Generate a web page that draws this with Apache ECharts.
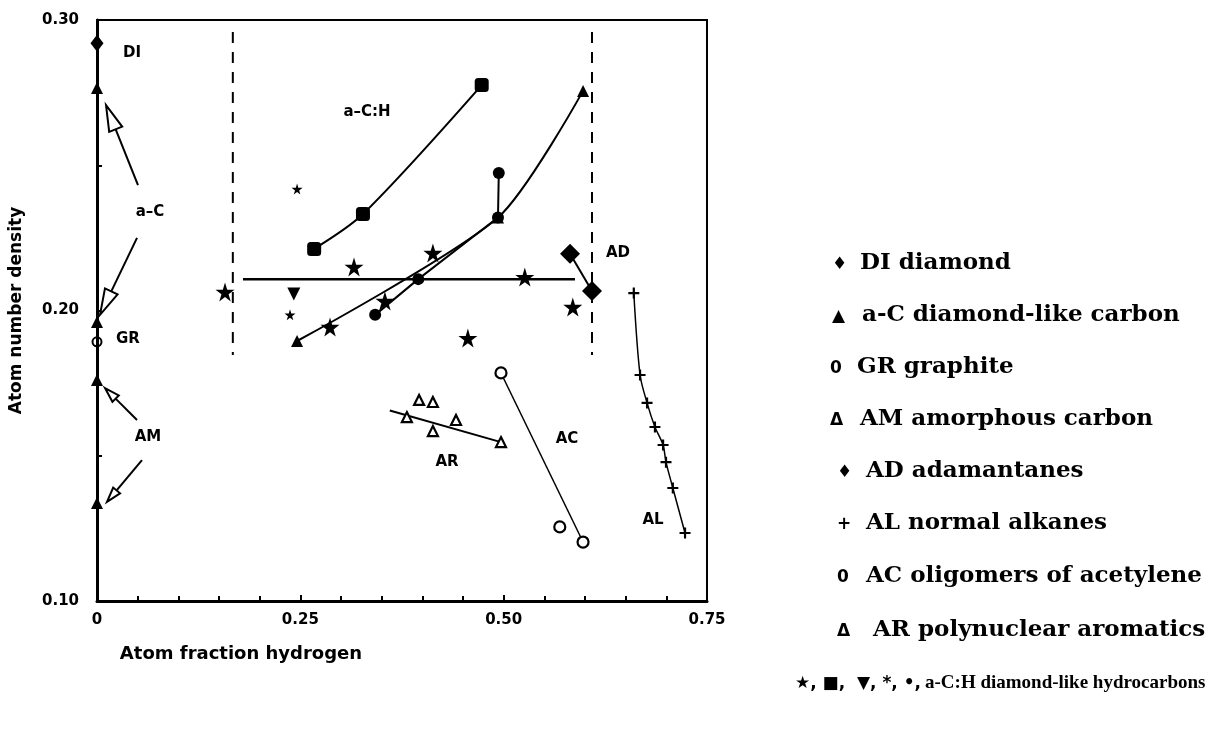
<!DOCTYPE html>
<html>
<head>
<meta charset="utf-8">
<script src="https://cdn.jsdelivr.net/npm/echarts@6/dist/echarts.min.js"></script>
<style>
  html, body { margin: 0; padding: 0; background: #fff; }
  #chart { width: 1211px; height: 738px; }
</style>
</head>
<body>
<div id="chart"></div>
<script>
// tick labels
const xTickLabels = ['0', '0.25', '0.50', '0.75'];
const yTickLabels = ['0.10', '0.20', '0.30'];

// reference materials [atom fraction H, atom number density]
const diPoints = [[0, 0.292]];
const aCPoints = [[0, 0.2766], [0, 0.196]];
const grPoints = [[0, 0.1892]];
const amPoints = [[0, 0.1761], [0, 0.1337]];
const adPoints = [[0.5816, 0.2195], [0.6086, 0.2067]];
const alPoints = [[0.660, 0.206], [0.6677, 0.1778], [0.6763, 0.1682], [0.686, 0.1599], [0.696, 0.1537], [0.6996, 0.1478], [0.708, 0.1389], [0.723, 0.1234]];
const acPoints = [[0.4967, 0.1785], [0.569, 0.1255], [0.5976, 0.1203]];
const acLine = [[0.4967, 0.1785], [0.5976, 0.1203]];
const arPoints = [[0.381, 0.1633], [0.396, 0.1692], [0.413, 0.1685], [0.4414, 0.1623], [0.413, 0.1585], [0.4967, 0.1547]];
const arLine = [[0.36, 0.1656], [0.4967, 0.1547]];

// a-C:H films
const achStars = [[0.1574, 0.2064], [0.316, 0.215], [0.413, 0.2198], [0.526, 0.2115], [0.585, 0.2012], [0.456, 0.1905], [0.2865, 0.1943], [0.354, 0.2033]];
const achSquares = [[0.267, 0.2212], [0.327, 0.2332], [0.473, 0.2776]];
const achDown = [[0.242, 0.2057]];
const achAsterisk = [[0.246, 0.2418], [0.2373, 0.1985]];
const achCircles = [[0.342, 0.1985], [0.395, 0.2108], [0.493, 0.232], [0.494, 0.2473]];
const achTriangles = [[0.246, 0.1895], [0.493, 0.232], [0.5976, 0.2756]];
const achMean = [[0.1795, 0.2108], [0.5877, 0.2108]];
const achLeftBound = [[0.167, 0.2959], [0.167, 0.1847]];
const achRightBound = [[0.6086, 0.2959], [0.6086, 0.1847]];

// arrows [tailX, tailY, tipX, tipY]
const aCArrows = [[0.0504, 0.2432, 0.0111, 0.2707], [0.0492, 0.2250, 0.0037, 0.1985]];
const amArrows = [[0.0492, 0.1623, 0.0098, 0.1733], [0.0553, 0.1485, 0.0123, 0.1341]];

// in-plot labels
const plotLabels = [
  { name: 'DI', value: [0.043, 0.2886] },
  { name: 'a–C', value: [0.0652, 0.2339] },
  { name: 'GR', value: [0.0381, 0.1902] },
  { name: 'AM', value: [0.0627, 0.1565] },
  { name: 'a–C:H', value: [0.332, 0.2683] },
  { name: 'AD', value: [0.6406, 0.2198] },
  { name: 'AC', value: [0.5779, 0.1558] },
  { name: 'AR', value: [0.4303, 0.1479] },
  { name: 'AL', value: [0.6836, 0.1279] }
];

const legendSymbols = ['♦', '▲', '0', 'Δ', '♦', '+', '0', 'Δ'];
const legendTexts = ['DI diamond', 'a-C diamond-like carbon', 'GR graphite', 'AM amorphous carbon',
  'AD adamantanes', 'AL normal alkanes', 'AC oligomers of acetylene', 'AR polynuclear aromatics'];
const legendLastSymbols = '★, ■,  ▼, *, •,';
const legendLastText = 'a-C:H diamond-like hydrocarbons';

const STAR = 'path://M50,0 L61,35 L98,35 L68,57 L79,91 L50,70 L21,91 L32,57 L2,35 L39,35 Z';
const PLUS = 'path://M4,0 H6 V4 H10 V6 H6 V10 H4 V6 H0 V4 H4 Z';
const labelFont = { fontFamily: 'DejaVu Sans', fontWeight: 'bold', color: '#000' };

function lineSeries(data, extra) {
  return Object.assign({
    type: 'line', data: data, symbol: 'none', silent: true, z: 2,
    lineStyle: { color: '#000', width: 2 }
  }, extra || {});
}
function markers(data, symbol, size, filled, extra) {
  return Object.assign({
    type: 'scatter', data: data, symbol: symbol, symbolSize: size, z: 5,
    itemStyle: filled
      ? { color: '#000', opacity: 1 }
      : { color: '#fff', borderColor: '#000', borderWidth: 2.2, opacity: 1 }
  }, extra || {});
}
function arrowSeries(data, headLen, headW) {
  return {
    type: 'custom', data: data, z: 4, silent: true,
    renderItem: function (params, api) {
      const t = api.coord([api.value(0), api.value(1)]);
      const h = api.coord([api.value(2), api.value(3)]);
      const dx = h[0] - t[0], dy = h[1] - t[1];
      const len = Math.sqrt(dx * dx + dy * dy);
      const ux = dx / len, uy = dy / len;
      const b = [h[0] - ux * headLen, h[1] - uy * headLen];
      const px = -uy * headW / 2, py = ux * headW / 2;
      return {
        type: 'group',
        children: [
          { type: 'line', shape: { x1: t[0], y1: t[1], x2: b[0], y2: b[1] }, style: { stroke: '#000', lineWidth: 2 } },
          { type: 'polygon', shape: { points: [h, [b[0] + px, b[1] + py], [b[0] - px, b[1] - py]] },
            style: { fill: '#fff', stroke: '#000', lineWidth: 2 } }
        ]
      };
    }
  };
}

const legendGraphics = [];
const rowY = [266, 318, 370, 422, 474, 526, 579, 633];
const symX = [838, 838, 836, 836, 843, 843, 843, 843];
const txtX = [860, 862, 857, 860, 866, 866, 866, 873];
legendTexts.forEach(function (t, i) {
  legendGraphics.push({
    type: 'text', left: symX[i] - 6, top: rowY[i] - 10,
    style: { text: legendSymbols[i], font: 'bold 17px "DejaVu Sans"', fill: '#000' }
  });
  legendGraphics.push({
    type: 'text', left: txtX[i], top: rowY[i] - 14,
    style: { text: t, font: 'bold 23px "DejaVu Serif"', fill: '#000' }
  });
});
legendGraphics.push({
  type: 'text', left: 795, top: 675,
  style: { text: legendLastSymbols, font: 'bold 17px "DejaVu Sans"', fill: '#000' }
});
legendGraphics.push({
  type: 'text', left: 925, top: 674,
  style: { text: legendLastText, font: 'bold 19px "Liberation Serif"', fill: '#000' }
});

const chart = echarts.init(document.getElementById('chart'));
chart.setOption({
  animation: false,
  backgroundColor: '#fff',
  grid: { left: 97, top: 20, right: 504, bottom: 137, show: true, borderColor: '#000', borderWidth: 2 },
  xAxis: {
    type: 'value', min: 0, max: 0.75, interval: 0.25,
    name: 'Atom fraction hydrogen', nameLocation: 'middle', nameGap: 44,
    nameTextStyle: Object.assign({ fontSize: 18, padding: [0, 322, 0, 0] }, labelFont),
    axisLine: { lineStyle: { color: '#000', width: 3 } },
    axisTick: { inside: true, length: 6, lineStyle: { color: '#000', width: 2 } },
    minorTick: { show: true, splitNumber: 5, length: 5, lineStyle: { color: '#000', width: 2 } },
    splitLine: { show: false },
    axisLabel: Object.assign({ fontSize: 15, margin: 12, formatter: function (v) { return xTickLabels[Math.round(v / 0.25)]; } }, labelFont)
  },
  yAxis: {
    type: 'value', min: 0.1, max: 0.3, interval: 0.1,
    name: 'Atom number density', nameLocation: 'middle', nameGap: 72,
    nameTextStyle: Object.assign({ fontSize: 17 }, labelFont),
    axisLine: { lineStyle: { color: '#000', width: 3 } },
    axisTick: { inside: true, length: 6, lineStyle: { color: '#000', width: 2 } },
    minorTick: { show: true, splitNumber: 2, length: 5, lineStyle: { color: '#000', width: 2 } },
    splitLine: { show: false },
    axisLabel: Object.assign({ fontSize: 15, margin: 18, formatter: function (v) { return yTickLabels[Math.round((v - 0.1) / 0.1)]; } }, labelFont)
  },
  graphic: legendGraphics,
  series: [
    lineSeries(achLeftBound, { lineStyle: { color: '#000', width: 2, type: [11, 9] } }),
    lineSeries(achRightBound, { lineStyle: { color: '#000', width: 2, type: [11, 9] } }),
    lineSeries(achMean, { lineStyle: { color: '#000', width: 2.5 } }),
    lineSeries(achSquares, { smooth: 0.3 }),
    lineSeries(achCircles),
    lineSeries(achTriangles, { smooth: 0.25 }),
    lineSeries(adPoints),
    lineSeries(alPoints, { smooth: 0.3, lineStyle: { color: '#000', width: 1.5 } }),
    lineSeries(acLine, { lineStyle: { color: '#000', width: 1.5 } }),
    lineSeries(arLine),
    arrowSeries(aCArrows, 26, 14),
    arrowSeries(amArrows, 15, 9),
    markers(diPoints, 'diamond', [13, 17], true),
    markers(aCPoints, 'triangle', 12, true),
    markers(grPoints, 'circle', 9, false, { itemStyle: { color: 'rgba(0,0,0,0)', borderColor: '#000', borderWidth: 2, opacity: 1 } }),
    markers(amPoints, 'triangle', 12, true),
    markers(adPoints, 'diamond', 20, true),
    markers(alPoints, PLUS, 11, true),
    markers(acPoints, 'circle', 11, false),
    markers(arPoints, 'triangle', 10, false),
    markers(achStars, STAR, 19, true),
    markers(achSquares, 'roundRect', 14, true),
    markers(achDown, 'triangle', 13, true, { symbolRotate: 180 }),
    markers(achAsterisk, STAR, 11, true),
    markers(achCircles, 'circle', 12, true),
    markers(achTriangles, 'triangle', 12, true),
    {
      type: 'scatter', data: plotLabels, symbolSize: 0, silent: true, z: 6,
      itemStyle: { opacity: 1 },
      label: Object.assign({ show: true, position: 'inside', fontSize: 15, formatter: '{b}' }, labelFont)
    }
  ]
});
</script>
</body>
</html>
